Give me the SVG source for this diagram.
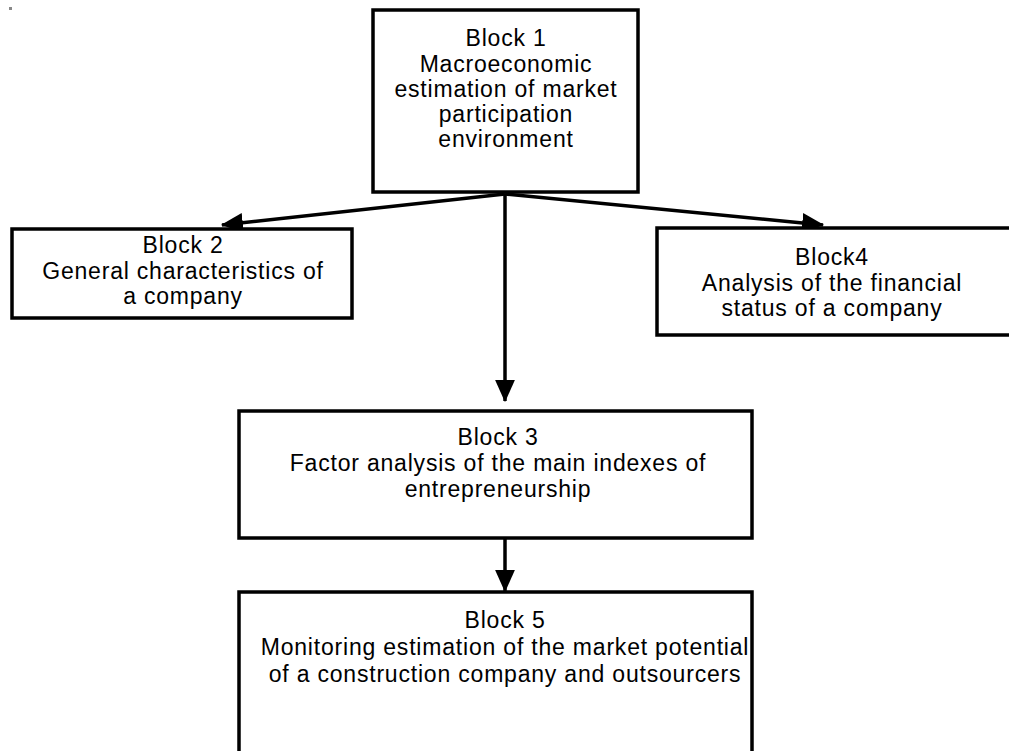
<svg xmlns="http://www.w3.org/2000/svg" width="1009" height="751" viewBox="0 0 1009 751">
<style>
.box{fill:#fff;stroke:#000;stroke-width:3.5}
.t{font-family:"Liberation Sans",Arial,sans-serif;font-size:23px;letter-spacing:0.8px;text-anchor:middle;fill:#000}
.c{fill:none;stroke:#000;stroke-width:3.5}
</style>
<defs>
<marker id="ah" markerUnits="userSpaceOnUse" markerWidth="22" markerHeight="22" viewBox="0 0 20 20" refX="19" refY="10" orient="auto">
<path d="M0,1 L20,10 L0,19 Z" fill="#000"/>
</marker>
</defs>
<rect x="9" y="7" width="3" height="3" fill="#888"/>
<g id="connectors">
<path class="c" d="M505,194 L505,401" marker-end="url(#ah)"/>
<path class="c" d="M505,194 L222,225" marker-end="url(#ah)"/>
<path class="c" d="M505,194 L823,225" marker-end="url(#ah)"/>
<path class="c" d="M505,538 L505,591" marker-end="url(#ah)"/>
</g>
<g id="block1">
<rect class="box" x="373" y="10" width="265" height="182"/>
<text class="t" x="506" y="46">Block 1</text>
<text class="t" x="506" y="72">Macroeconomic</text>
<text class="t" x="506" y="97">estimation of market</text>
<text class="t" x="506" y="122">participation</text>
<text class="t" x="506" y="147">environment</text>
</g>
<g id="block2">
<rect class="box" x="12" y="229" width="340" height="89"/>
<text class="t" x="183" y="253">Block 2</text>
<text class="t" x="183" y="279">General characteristics of</text>
<text class="t" x="183" y="304">a company</text>
</g>
<g id="block4">
<rect class="box" x="657" y="228" width="360" height="107"/>
<text class="t" x="832" y="265">Block4</text>
<text class="t" x="832" y="291">Analysis of the financial</text>
<text class="t" x="832" y="316">status of a company</text>
</g>
<g id="block3">
<rect class="box" x="239" y="411" width="513" height="127"/>
<text class="t" x="498" y="445">Block 3</text>
<text class="t" x="498" y="471">Factor analysis of the main indexes of</text>
<text class="t" x="498" y="497">entrepreneurship</text>
</g>
<g id="block5">
<rect class="box" x="239" y="592" width="513" height="180"/>
<text class="t" x="505" y="628">Block 5</text>
<text class="t" x="505" y="655">Monitoring estimation of the market potential</text>
<text class="t" x="505" y="682">of a construction company and outsourcers</text>
</g>
</svg>
